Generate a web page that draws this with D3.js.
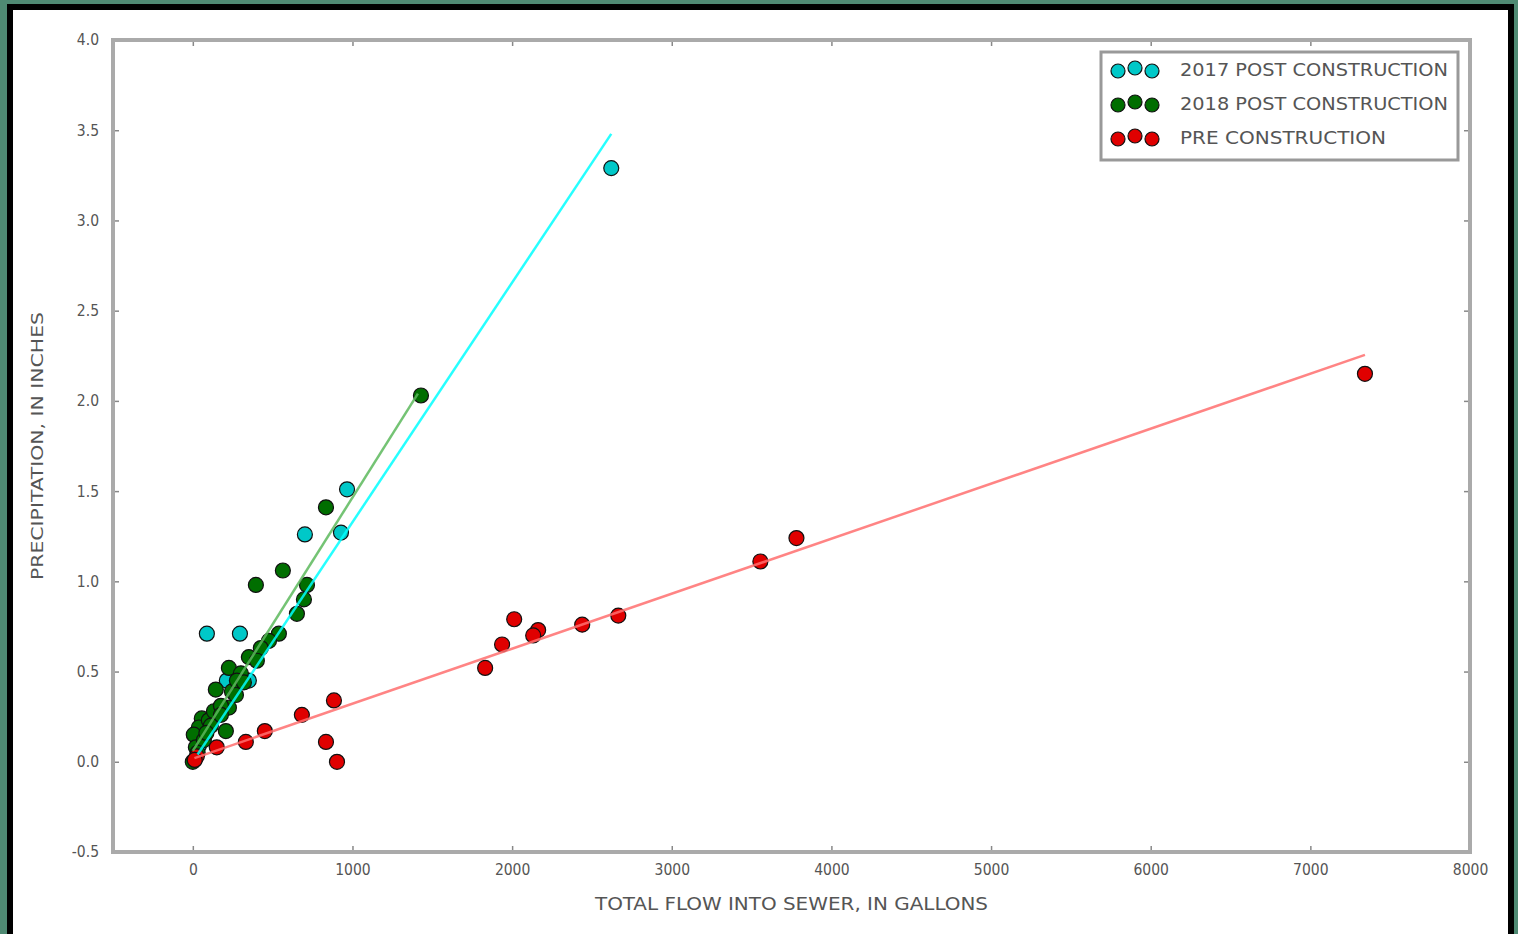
<!DOCTYPE html>
<html>
<head>
<meta charset="utf-8">
<script src="https://cdn.jsdelivr.net/npm/d3@7"></script>
<style>
  html, body { margin: 0; padding: 0; background: #4f8a73; }
  svg { display: block; }
  text { font-family: "DejaVu Sans Condensed", "DejaVu Sans", sans-serif; fill: #555; }
</style>
</head>
<body>
<svg id="chart" width="1518" height="934"></svg>
<script>
// Оси
const xTicks = [0, 1000, 2000, 3000, 4000, 5000, 6000, 7000, 8000];
const yTicks = [-0.5, 0.0, 0.5, 1.0, 1.5, 2.0, 2.5, 3.0, 3.5, 4.0];

const seriesNames = ['2017 POST CONSTRUCTION', '2018 POST CONSTRUCTION', 'PRE CONSTRUCTION'];

// 2017 после строительства
const post2017X = [2621, 966, 928, 702, 88, 295, 213, 351, 38, 69];
const post2017Y = [3.29, 1.51, 1.27, 1.26, 0.71, 0.71, 0.45, 0.45, 0.09, 0.14];

// 2018 после строительства
const post2018X = [1429, 834, 564, 395, 715, 696, 652, 539, 477, 426, 351, 226, 301, 144, 245, 226, 56, 38, 207, 6, 19, 0, 100, 132, 176, 276, 401, 69, 113, 176, 270, 320, 30, 85];
const post2018Y = [2.03, 1.41, 1.06, 0.98, 0.98, 0.90, 0.82, 0.71, 0.67, 0.63, 0.58, 0.52, 0.49, 0.40, 0.39, 0.30, 0.24, 0.19, 0.17, 0.15, 0.08, 0.0, 0.23, 0.28, 0.31, 0.45, 0.56, 0.12, 0.20, 0.26, 0.37, 0.44, 0.05, 0.16];

// до строительства
const preX = [7342, 3781, 3555, 2665, 2439, 2163, 2132, 2013, 1937, 1831, 884, 683, 834, 903, 451, 332, 150, 25, 12];
const preY = [2.15, 1.24, 1.11, 0.81, 0.76, 0.73, 0.70, 0.79, 0.65, 0.52, 0.34, 0.26, 0.11, 0.0, 0.17, 0.11, 0.08, 0.03, 0.01];

// линии тренда (начало и конец)
const fit2017X = [30, 2621];
const fit2017Y = [0.04, 3.48];
const fit2018X = [0, 1410];
const fit2018Y = [0.06, 2.04];
const fitPreX = [10, 7342];
const fitPreY = [0.02, 2.255];

const fills = ['#00c8c8', '#006e00', '#e00000'];
const lineColors = ['#00ffff', '#5cb85c', '#ff6f6f'];

const svg = d3.select('#chart');

// рамка картинки
svg.append('rect').attr('x', 7).attr('y', 4).attr('width', 1507).attr('height', 940).attr('fill', '#000');
svg.append('rect').attr('x', 13).attr('y', 10).attr('width', 1495).attr('height', 940).attr('fill', '#fff');

const plot = { left: 113, top: 40, right: 1470, bottom: 852 };

const x = d3.scaleLinear().domain([-500, 8000]).range([plot.left, plot.right]);
const y = d3.scaleLinear().domain([-0.5, 4.0]).range([plot.bottom, plot.top]);

const g = svg.append('g');

// точки
const series = [
    { xs: post2017X, ys: post2017Y, fx: fit2017X, fy: fit2017Y },
    { xs: post2018X, ys: post2018Y, fx: fit2018X, fy: fit2018Y },
    { xs: preX, ys: preY, fx: fitPreX, fy: fitPreY }
];

series.forEach((s, i) => {
    g.append('g').selectAll('circle')
        .data(s.xs.map((v, j) => [v, s.ys[j]]))
        .enter()
        .append('circle')
        .attr('cx', d => x(d[0]))
        .attr('cy', d => y(d[1]))
        .attr('r', 7.5)
        .attr('fill', fills[i])
        .attr('stroke', '#111')
        .attr('stroke-width', 1.2);
});

const line = d3.line().x(d => x(d[0])).y(d => y(d[1]));
series.forEach((s, i) => {
    g.append('path')
        .datum(s.fx.map((v, j) => [v, s.fy[j]]))
        .attr('d', line)
        .attr('fill', 'none')
        .attr('stroke', lineColors[i])
        .attr('stroke-width', 2.5)
        .attr('opacity', 0.85);
});

// оси - тики внутрь на всех четырех сторонах
const axisColor = '#aaa';
const fmtY = (d) => d3.format('.1f')(d).replace('\u2212', '-');
const bottomAxis = d3.axisBottom(x).tickValues(xTicks).tickFormat(d3.format('d')).tickSize(-6).tickPadding(12);
const topAxis = d3.axisTop(x).tickValues(xTicks).tickFormat('').tickSize(-6);
const leftAxis = d3.axisLeft(y).tickValues(yTicks).tickFormat(fmtY).tickSize(-6).tickPadding(14);
const rightAxis = d3.axisRight(y).tickValues(yTicks).tickFormat('').tickSize(-6);

const styleAxis = (sel) => {
    sel.select('.domain').remove();
    sel.selectAll('line').attr('stroke', '#888').attr('stroke-width', 1.5);
    sel.selectAll('text').attr('font-size', 15.5).attr('fill', '#555')
        .style('font-family', '"DejaVu Sans Condensed", "DejaVu Sans", sans-serif');
};

svg.append('g').attr('transform', `translate(0,${plot.bottom})`).call(bottomAxis).call(styleAxis);
svg.append('g').attr('transform', `translate(0,${plot.top})`).call(topAxis).call(styleAxis);
svg.append('g').attr('transform', `translate(${plot.left},0)`).call(leftAxis).call(styleAxis);
svg.append('g').attr('transform', `translate(${plot.right},0)`).call(rightAxis).call(styleAxis);

svg.append('rect')
    .attr('x', plot.left).attr('y', plot.top)
    .attr('width', plot.right - plot.left).attr('height', plot.bottom - plot.top)
    .attr('fill', 'none').attr('stroke', axisColor).attr('stroke-width', 4);

// подписи осей
svg.append('text')
    .attr('x', (plot.left + plot.right) / 2).attr('y', 910)
    .attr('text-anchor', 'middle').attr('font-size', 17)
    .attr('textLength', 393).attr('lengthAdjust', 'spacingAndGlyphs')
    .text('TOTAL FLOW INTO SEWER, IN GALLONS');

svg.append('text')
    .attr('transform', `translate(43,${(plot.top + plot.bottom) / 2}) rotate(-90)`)
    .attr('text-anchor', 'middle').attr('font-size', 16)
    .attr('textLength', 268).attr('lengthAdjust', 'spacingAndGlyphs')
    .text('PRECIPITATION, IN INCHES');

// легенда
const legend = svg.append('g').attr('transform', 'translate(1101,52)');
legend.append('rect')
    .attr('width', 357).attr('height', 108)
    .attr('fill', '#fff').attr('stroke', '#999').attr('stroke-width', 3);

const legendY = d3.scalePoint().domain(seriesNames).range([18, 86]);
const dotOffsets = [[17, 1], [34, -2], [51, 1]];
seriesNames.forEach((name, i) => {
    const row = legend.append('g').attr('transform', `translate(0,${legendY(name)})`);
    dotOffsets.forEach(o => {
        row.append('circle')
            .attr('cx', o[0]).attr('cy', o[1]).attr('r', 7)
            .attr('fill', fills[i]).attr('stroke', '#111').attr('stroke-width', 1.2);
    });
    row.append('text')
        .attr('x', 79).attr('y', 6)
        .attr('font-size', 17)
        .attr('textLength', name.length === 22 ? 268 : 206)
        .attr('lengthAdjust', 'spacingAndGlyphs')
        .text(name);
});
</script>
</body>
</html>
